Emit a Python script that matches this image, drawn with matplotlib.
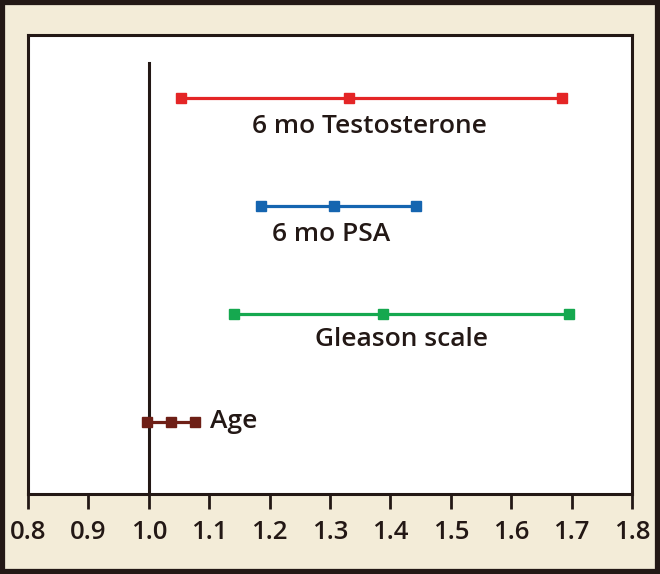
import matplotlib
matplotlib.use("Agg")
import matplotlib.pyplot as plt
from matplotlib.patches import Rectangle

# Data (odds ratio intervals: lower, estimate, upper)
labels = ["6 mo Testosterone", "6 mo PSA", "Gleason scale", "Age"]
lower = [1.053, 1.186, 1.141, 0.997]
estimate = [1.331, 1.307, 1.388, 1.037]
upper = [1.684, 1.442, 1.696, 1.076]
rows = [4, 3, 2, 1]
colors = ["#E42526", "#1565B0", "#15A84F", "#6E1F16"]
label_x = [1.366, 1.302, 1.419, 1.101]
label_y = [3.74, 2.74, 1.76, 1.0]
label_ha = ["center", "center", "center", "left"]
xticks = [0.8, 0.9, 1.0, 1.1, 1.2, 1.3, 1.4, 1.5, 1.6, 1.7, 1.8]

plt.rcParams['font.family'] = ['Open Sans', 'DejaVu Sans']

fig = plt.figure(figsize=(6.6, 5.74), dpi=100)
fig.patch.set_facecolor("#F3ECD8")
fig.patches.append(Rectangle((0.0025, 0.003), 0.995, 0.994, transform=fig.transFigure,
                             fill=False, edgecolor="#231815", linewidth=4.5, zorder=10))

ax = fig.add_axes([28/660, 1-494/574, 604/660, 459/574])
ax.set_facecolor("white")
for s in ax.spines.values():
    s.set_linewidth(2.2)
    s.set_color("#231815")

ax.set_xlim(0.8, 1.8)
ax.set_ylim(1 - 72/108, 4 + 63/108)

ax.plot([1.0, 1.0], [ax.get_ylim()[0], 4 + 35/108], color="#231815", lw=2.2, zorder=2)

for i in range(len(labels)):
    ax.plot([lower[i], estimate[i], upper[i]], [rows[i]]*3, color=colors[i], lw=2.3,
            marker="s", markersize=7.5, zorder=3, solid_capstyle="butt")
    ax.text(label_x[i], label_y[i], labels[i], ha=label_ha[i], va="center",
            fontsize=19, fontweight="semibold", color="#231815")

ax.set_xticks(xticks)
ax.set_xticklabels([f"{t:.1f}" for t in xticks], fontsize=18.5, fontweight="semibold", color="#231815")
ax.tick_params(axis="x", direction="out", length=11, width=2, color="#231815", pad=8)
ax.set_yticks([])

fig.savefig("out.png", dpi=100, facecolor=fig.get_facecolor())
